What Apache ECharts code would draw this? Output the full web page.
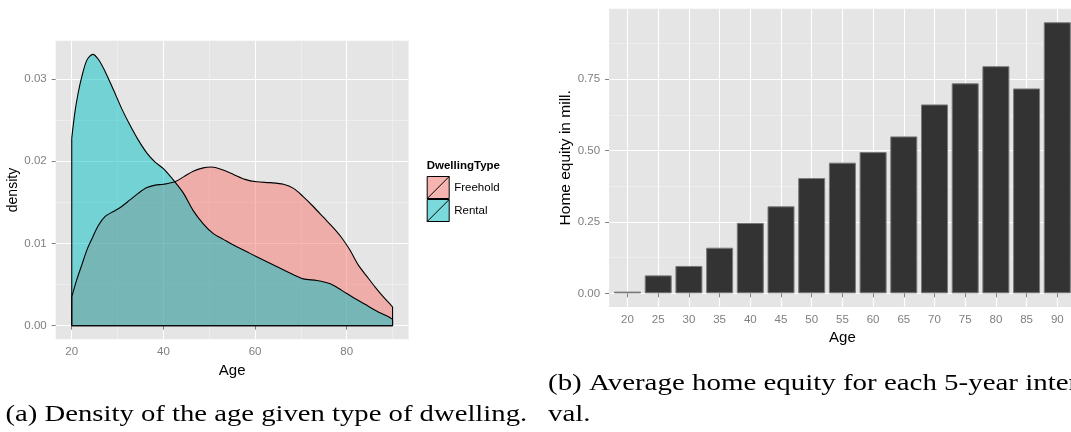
<!DOCTYPE html>
<html>
<head>
<meta charset="utf-8">
<script src="https://cdn.jsdelivr.net/npm/echarts@6/dist/echarts.min.js"></script>
<style>
html,body{margin:0;padding:0;background:#fff;overflow:hidden;}
#chart{width:1071px;height:432px;}
</style>
</head>
<body>
<div id="chart"></div>
<script>
// ---- Data: panel (a) density of age by dwelling type ----
const freeholdAges = [20, 21.1, 22.2, 23.3, 24.6, 25.8, 27.3, 29.1, 30.9, 32.7, 34.5, 36.4, 38.2, 40, 42.5, 44.4, 46.5, 48.7, 50.5, 52.7, 55.3, 57.8, 60.4, 63.3, 66.2, 68.4, 70.5, 72.7, 74.9, 77.1, 78.9, 80.7, 82.5, 84.4, 86.2, 88, 90];
const freeholdDensity = [0.0035, 0.0056, 0.0074, 0.0092, 0.0108, 0.0122, 0.0133, 0.0139, 0.0145, 0.0153, 0.0161, 0.0168, 0.0171, 0.0172, 0.0175, 0.0181, 0.0188, 0.0192, 0.0193, 0.0190, 0.0184, 0.0178, 0.0175, 0.0174, 0.0172, 0.0167, 0.0157, 0.0145, 0.0132, 0.0119, 0.0107, 0.0092, 0.0074, 0.0060, 0.0047, 0.0035, 0.0023];
const rentalAges = [20, 20.7, 21.4, 22.2, 23.3, 24.6, 25.8, 27.3, 29.1, 30.9, 32.7, 34.5, 36.4, 38.2, 40, 42.5, 44.4, 46.5, 48.7, 50.9, 53.1, 56, 58.9, 61.8, 64.7, 67.6, 70.5, 73.5, 76.4, 78.9, 81.5, 84, 86.5, 88.7, 90];
const rentalDensity = [0.0228, 0.0260, 0.0283, 0.0303, 0.0323, 0.0330, 0.0324, 0.0309, 0.0287, 0.0264, 0.0244, 0.0226, 0.0210, 0.0199, 0.0191, 0.0175, 0.0161, 0.0140, 0.0124, 0.0112, 0.0105, 0.0096, 0.0088, 0.0080, 0.0072, 0.0064, 0.0057, 0.0055, 0.0051, 0.0043, 0.0034, 0.0026, 0.0018, 0.0012, 0.0008];
const dwellingTypes = ['Freehold', 'Rental'];
const densityXTicks = [20, 40, 60, 80];
const densityXMinor = [30, 50, 70, 90];
const densityYTicks = [0, 0.01, 0.02, 0.03];
const densityYMinor = [0.005, 0.015, 0.025];

// ---- Data: panel (b) average home equity per 5-year interval ----
const equityAges = [20, 25, 30, 35, 40, 45, 50, 55, 60, 65, 70, 75, 80, 85, 90];
const equityValues = [0.006, 0.063, 0.096, 0.160, 0.247, 0.305, 0.404, 0.458, 0.495, 0.550, 0.662, 0.736, 0.796, 0.718, 0.950];
const equityYTicks = [0, 0.25, 0.5, 0.75];
const equityYMinor = [0.125, 0.375, 0.625, 0.875];

// ---- Captions ----
const captionA = '(a) Density of the age given type of dwelling.';
const captionB1 = '(b) Average home equity for each 5-year inter-';
const captionB2 = 'val.';

const zip = (xs, ys) => xs.map((x, i) => [x, ys[i]]);
const edges = (xs, ys) => [[xs[0], ys[0]], [xs[0], 0], [xs[xs.length - 1], 0], [xs[xs.length - 1], ys[ys.length - 1]]];

const SANS = 'Liberation Sans, Arial, sans-serif';
const tickColor = '#7f7f7f';
const bg = '#e5e5e5';
const majorLine = { show: true, lineStyle: { color: '#ffffff', width: 1.1 } };
const minorLine = { show: true, lineStyle: { color: '#f2f2f2', width: 0.7 } };
const nameStyle = (size) => ({ color: '#000', fontSize: size, fontFamily: SANS });
const labelStyle = (vals, margin, fmt) => ({ customValues: vals, margin: margin, color: tickColor, fontSize: 11.5, fontFamily: SANS, formatter: fmt });
const tickStyle = (vals) => ({ show: true, customValues: vals, length: 4, lineStyle: { color: tickColor, width: 1 } });
const hiddenAxis = (extra) => Object.assign({
  type: 'value', axisLine: { show: false }, axisLabel: { show: false }, splitLine: minorLine
}, extra);

const chart = echarts.init(document.getElementById('chart'), null, { renderer: 'canvas' });

const option = {
  animation: false,
  backgroundColor: '#ffffff',
  grid: [
    { left: 55.7, top: 40.8, width: 352.9, height: 298.5, show: true, backgroundColor: bg, borderWidth: 0, containLabel: false, outerBoundsMode: 'none' },
    { left: 609.1, top: 8.7, width: 466.6, height: 298.2, show: true, backgroundColor: bg, borderWidth: 0, containLabel: false, outerBoundsMode: 'none' }
  ],
  xAxis: [
    hiddenAxis({ gridIndex: 0, min: 16.5, max: 93.5, axisTick: { show: false, customValues: densityXMinor }, axisLabel: { show: false, customValues: densityXMinor } }),
    {
      gridIndex: 0, type: 'value', min: 16.5, max: 93.5, position: 'bottom',
      axisLine: { show: false }, axisTick: tickStyle(densityXTicks),
      axisLabel: labelStyle(densityXTicks, 7, (v) => String(v)),
      splitLine: majorLine,
      name: 'Age', nameLocation: 'middle', nameGap: 21, nameTextStyle: nameStyle(15)
    },
    {
      gridIndex: 1, type: 'value', min: 17, max: 93, position: 'bottom',
      axisLine: { show: false }, axisTick: tickStyle(equityAges),
      axisLabel: labelStyle(equityAges, 7, (v) => String(v)),
      splitLine: majorLine,
      name: 'Age', nameLocation: 'middle', nameGap: 21, nameTextStyle: nameStyle(15)
    }
  ],
  yAxis: [
    hiddenAxis({ gridIndex: 0, min: -0.00165, max: 0.03465, axisTick: { show: false, customValues: densityYMinor }, axisLabel: { show: false, customValues: densityYMinor } }),
    {
      gridIndex: 0, type: 'value', min: -0.00165, max: 0.03465, position: 'left',
      axisLine: { show: false }, axisTick: tickStyle(densityYTicks),
      axisLabel: labelStyle(densityYTicks, 9, (v) => v.toFixed(2)),
      splitLine: majorLine,
      name: 'density', nameLocation: 'middle', nameGap: 32, nameRotate: 90, nameTextStyle: nameStyle(14)
    },
    hiddenAxis({ gridIndex: 1, min: -0.0475, max: 0.9975, axisTick: { show: false, customValues: equityYMinor }, axisLabel: { show: false, customValues: equityYMinor } }),
    {
      gridIndex: 1, type: 'value', min: -0.0475, max: 0.9975, position: 'left',
      axisLine: { show: false }, axisTick: tickStyle(equityYTicks),
      axisLabel: labelStyle(equityYTicks, 9, (v) => v.toFixed(2)),
      splitLine: majorLine,
      name: 'Home equity in mill.', nameLocation: 'middle', nameGap: 32, nameRotate: 90, nameTextStyle: nameStyle(15.5)
    }
  ],
  legend: {
    orient: 'vertical', left: 426.7, top: 176, padding: 0, itemGap: 0,
    itemWidth: 22, itemHeight: 22,
    icon: 'path://M0,0L22,0L22,22L0,22Z M0,22L22,0',
    textStyle: { color: '#000', fontSize: 11.5, fontFamily: SANS },
    data: [
      { name: dwellingTypes[0], itemStyle: { color: '#f5b4b0', borderColor: '#000', borderWidth: 1 } },
      { name: dwellingTypes[1], itemStyle: { color: '#79d9db', borderColor: '#000', borderWidth: 1 } }
    ]
  },
  title: [
    { text: 'DwellingType', left: 426.7, top: 160, padding: 0, textStyle: { color: '#000', fontSize: 11.5, fontWeight: 'bold', fontFamily: SANS } }
  ],
  graphic: [
    { type: 'text', x: 5.5, y: 414.5, scaleX: 1.195, style: { text: captionA, font: '24px "Liberation Serif", serif', fill: '#000', verticalAlign: 'middle' } },
    { type: 'text', x: 548, y: 383.5, scaleX: 1.205, style: { text: captionB1, font: '24px "Liberation Serif", serif', fill: '#000', verticalAlign: 'middle' } },
    { type: 'text', x: 548, y: 414.5, scaleX: 1.205, style: { text: captionB2, font: '24px "Liberation Serif", serif', fill: '#000', verticalAlign: 'middle' } }
  ],
  series: [
    {
      name: dwellingTypes[0], type: 'line', xAxisIndex: 1, yAxisIndex: 1,
      data: zip(freeholdAges, freeholdDensity), smooth: 0.3, symbol: 'none',
      itemStyle: { color: '#F8766D' },
      lineStyle: { color: '#000', width: 1.1 },
      areaStyle: { color: '#F8766D', opacity: 0.5 }
    },
    {
      name: 'FreeholdEdge', type: 'line', xAxisIndex: 1, yAxisIndex: 1,
      data: edges(freeholdAges, freeholdDensity), symbol: 'none',
      lineStyle: { color: '#000', width: 1.1 }
    },
    {
      name: dwellingTypes[1], type: 'line', xAxisIndex: 1, yAxisIndex: 1,
      data: zip(rentalAges, rentalDensity), smooth: 0.3, symbol: 'none',
      itemStyle: { color: '#00BFC4' },
      lineStyle: { color: '#000', width: 1.1 },
      areaStyle: { color: '#00BFC4', opacity: 0.5 }
    },
    {
      name: 'RentalEdge', type: 'line', xAxisIndex: 1, yAxisIndex: 1,
      data: edges(rentalAges, rentalDensity), symbol: 'none',
      lineStyle: { color: '#000', width: 1.1 }
    },
    {
      name: 'Home equity', type: 'bar', xAxisIndex: 2, yAxisIndex: 3,
      data: zip(equityAges, equityValues), barWidth: 27,
      itemStyle: { color: '#333333', borderColor: '#7a7a7a', borderWidth: 1 }
    }
  ]
};
chart.setOption(option);
</script>
</body>
</html>
